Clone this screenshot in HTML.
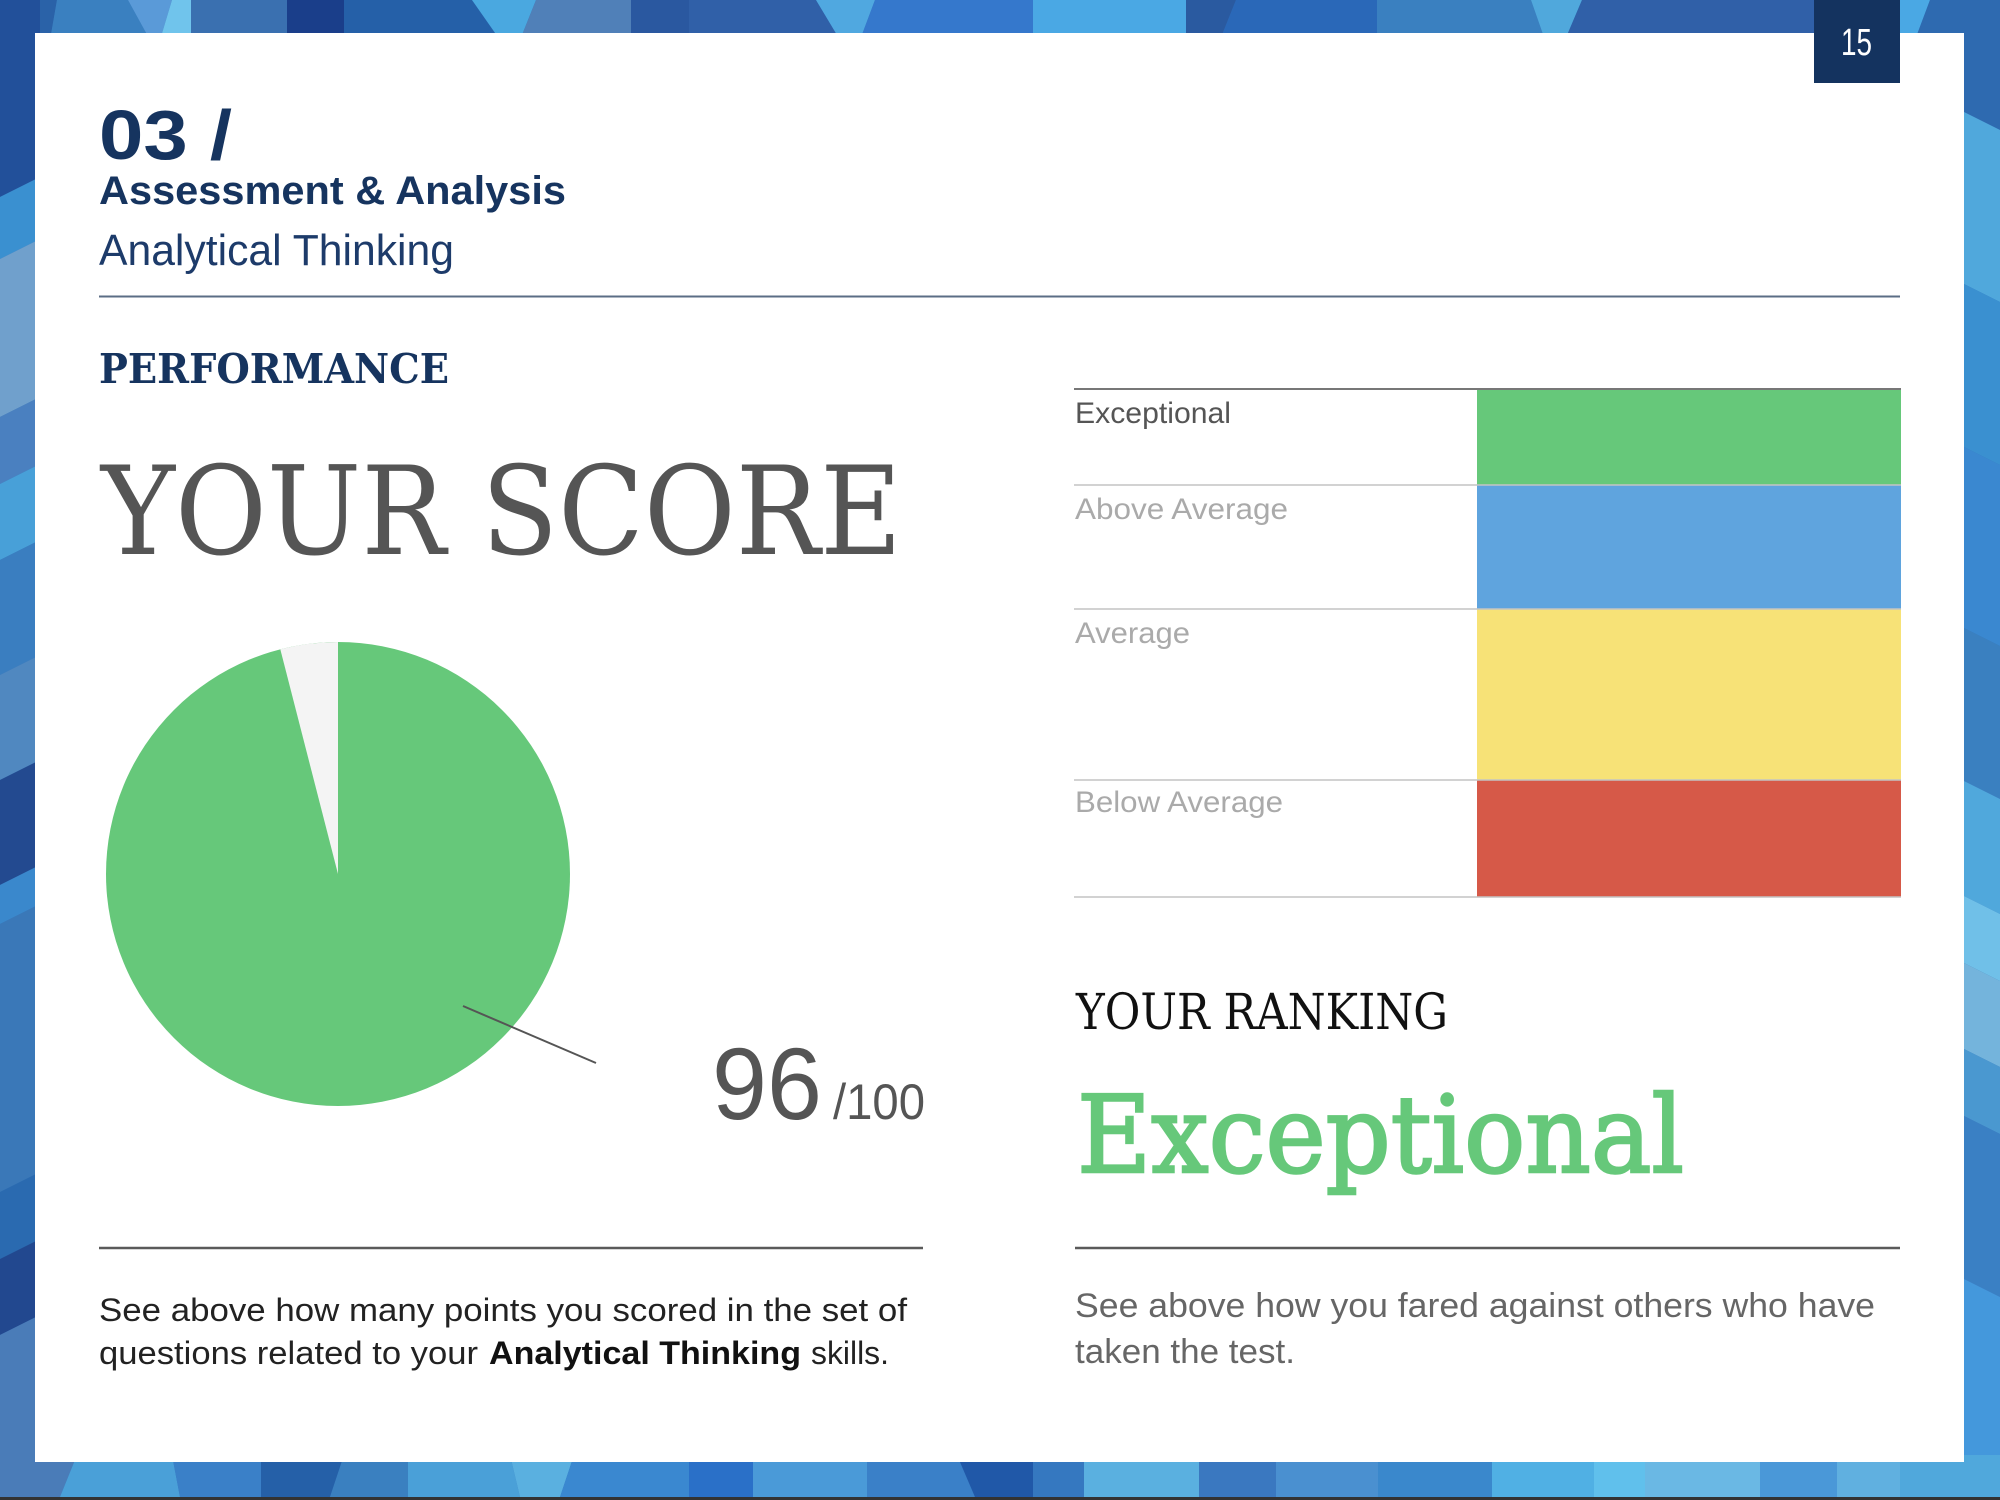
<!DOCTYPE html>
<html><head><meta charset="utf-8"><style>
html,body{margin:0;padding:0;width:2000px;height:1500px;overflow:hidden;background:#3374bb}
svg{display:block}
</style></head><body>
<svg width="2000" height="1500" viewBox="0 0 2000 1500" xmlns="http://www.w3.org/2000/svg">
<rect x="0" y="0" width="2000" height="1500" fill="#3374bb"/>
<!-- top strip -->
<g>
<polygon points="0,0 57,0 50,40 0,40" fill="#2a62a8"/>
<polygon points="57,0 128,0 150,40 50,40" fill="#3a80c0"/>
<polygon points="128,0 172,0 160,40 150,40" fill="#5a9ad8"/>
<polygon points="172,0 191,0 191,40 160,40" fill="#70c4ec"/>
<polygon points="191,0 287,0 287,40 191,40" fill="#3a70b0"/>
<polygon points="287,0 344,0 344,40 287,40" fill="#1a3e8a"/>
<polygon points="344,0 472,0 500,40 344,40" fill="#2560a8"/>
<polygon points="472,0 536,0 520,40 500,40" fill="#4aa8e0"/>
<polygon points="536,0 631,0 631,40 520,40" fill="#5080b8"/>
<polygon points="631,0 689,0 689,40 631,40" fill="#2a58a0"/>
<polygon points="689,0 816,0 840,40 689,40" fill="#3060a8"/>
<polygon points="816,0 875,0 860,40 840,40" fill="#50a8e0"/>
<polygon points="875,0 1033,0 1033,40 860,40" fill="#3578cc"/>
<polygon points="1033,0 1186,0 1186,40 1033,40" fill="#4aa8e4"/>
<polygon points="1186,0 1236,0 1220,40 1186,40" fill="#2a5aa0"/>
<polygon points="1236,0 1377,0 1377,40 1220,40" fill="#2a68b8"/>
<polygon points="1377,0 1531,0 1545,40 1377,40" fill="#3a80c0"/>
<polygon points="1531,0 1582,0 1565,40 1545,40" fill="#50a8dc"/>
<polygon points="1582,0 1814,0 1814,40 1565,40" fill="#3060a8"/>
<polygon points="1900,0 1930,0 1915,40 1900,40" fill="#4aa8e4"/>
<polygon points="1930,0 2000,0 2000,40 1915,40" fill="#2e6ab0"/>
</g>
<!-- left strip -->
<g>
<polygon points="0,0 40,0 40,177 0,197" fill="#22509a"/>
<polygon points="0,197 40,177 40,239 0,259" fill="#3a90d0"/>
<polygon points="0,259 40,239 40,397 0,417" fill="#70a0cc"/>
<polygon points="0,417 40,397 40,464 0,484" fill="#4a80c0"/>
<polygon points="0,484 40,464 40,540 0,560" fill="#48a0d8"/>
<polygon points="0,560 40,540 40,655 0,675" fill="#3a7ec0"/>
<polygon points="0,675 40,655 40,760 0,780" fill="#5088c0"/>
<polygon points="0,780 40,760 40,865 0,885" fill="#234a90"/>
<polygon points="0,885 40,865 40,904 0,924" fill="#3a88cc"/>
<polygon points="0,924 40,904 40,1172 0,1192" fill="#3a78b8"/>
<polygon points="0,1192 40,1172 40,1239 0,1259" fill="#2a6ab0"/>
<polygon points="0,1259 40,1239 40,1315 0,1335" fill="#22488f"/>
<polygon points="0,1335 40,1315 40,1500 0,1500" fill="#4a7cb8"/>
</g>
<!-- right strip -->
<g>
<polygon points="1960,0 2000,0 2000,130 1960,110" fill="#2e6ab0"/>
<polygon points="1960,110 2000,130 2000,302 1960,282" fill="#50a8dc"/>
<polygon points="1960,282 2000,302 2000,465 1960,445" fill="#3a90d0"/>
<polygon points="1960,445 2000,465 2000,646 1960,626" fill="#3a88d0"/>
<polygon points="1960,626 2000,646 2000,799 1960,779" fill="#3a80c0"/>
<polygon points="1960,779 2000,799 2000,914 1960,894" fill="#50a8dc"/>
<polygon points="1960,894 2000,914 2000,981 1960,961" fill="#70c0e8"/>
<polygon points="1960,961 2000,981 2000,1067 1960,1047" fill="#74b4dc"/>
<polygon points="1960,1047 2000,1067 2000,1134 1960,1114" fill="#4a98d0"/>
<polygon points="1960,1114 2000,1134 2000,1297 1960,1277" fill="#3a80c4"/>
<polygon points="1960,1277 2000,1297 2000,1500 1960,1500" fill="#4498dc"/>
</g>
<!-- bottom strip -->
<g>
<polygon points="0,1455 77,1455 60,1497 0,1497" fill="#4a7cb8"/>
<polygon points="77,1455 172,1455 180,1497 60,1497" fill="#4aa0d8"/>
<polygon points="172,1455 261,1455 261,1497 180,1497" fill="#3a80c8"/>
<polygon points="261,1455 344,1455 330,1497 261,1497" fill="#2560a8"/>
<polygon points="344,1455 408,1455 408,1497 330,1497" fill="#3a80c0"/>
<polygon points="408,1455 510,1455 520,1497 408,1497" fill="#4aa0d8"/>
<polygon points="510,1455 574,1455 560,1497 520,1497" fill="#5ab0e0"/>
<polygon points="574,1455 689,1455 689,1497 560,1497" fill="#3a88d0"/>
<polygon points="689,1455 753,1455 753,1497 689,1497" fill="#2a70c8"/>
<polygon points="753,1455 867,1455 867,1497 753,1497" fill="#4a9ad8"/>
<polygon points="867,1455 957,1455 975,1497 867,1497" fill="#3a80c8"/>
<polygon points="957,1455 1033,1455 1033,1497 975,1497" fill="#2058a8"/>
<polygon points="1033,1455 1084,1455 1084,1497 1033,1497" fill="#3578c0"/>
<polygon points="1084,1455 1199,1455 1199,1497 1084,1497" fill="#5ab0e0"/>
<polygon points="1199,1455 1276,1455 1276,1497 1199,1497" fill="#3a78c0"/>
<polygon points="1276,1455 1378,1455 1378,1497 1276,1497" fill="#4a90d0"/>
<polygon points="1378,1455 1492,1455 1492,1497 1378,1497" fill="#3a88cc"/>
<polygon points="1492,1455 1594,1455 1594,1497 1492,1497" fill="#50b0e4"/>
<polygon points="1594,1455 1645,1455 1645,1497 1594,1497" fill="#60c0ec"/>
<polygon points="1645,1455 1760,1455 1760,1497 1645,1497" fill="#6ab8e4"/>
<polygon points="1760,1455 1837,1455 1837,1497 1760,1497" fill="#4a98d8"/>
<polygon points="1837,1455 1900,1455 1900,1497 1837,1497" fill="#60b0e0"/>
<polygon points="1900,1455 2000,1455 2000,1497 1900,1497" fill="#50a8dc"/>
</g>
<rect x="0" y="1497" width="2000" height="3" fill="#333"/>

<!-- white panel -->
<rect x="35" y="33" width="1929" height="1429" fill="#ffffff"/>

<!-- page number -->
<rect x="1814" y="0" width="86" height="83" fill="#14335f"/>
<text x="1841" y="55" font-family="Liberation Sans, sans-serif" font-size="38" fill="#ffffff" textLength="31" lengthAdjust="spacingAndGlyphs">15</text>

<!-- header -->
<text x="99" y="159" font-family="Liberation Sans, sans-serif" font-weight="bold" font-size="70" fill="#16345f" textLength="133" lengthAdjust="spacingAndGlyphs">03 /</text>
<text x="99" y="204" font-family="Liberation Sans, sans-serif" font-weight="bold" font-size="40" fill="#16345f" textLength="467" lengthAdjust="spacingAndGlyphs">Assessment &amp; Analysis</text>
<text x="99" y="265" font-family="Liberation Sans, sans-serif" font-size="44" fill="#1d3b6a" textLength="355" lengthAdjust="spacingAndGlyphs">Analytical Thinking</text>
<line x1="99" y1="296.5" x2="1900" y2="296.5" stroke="#5b6d85" stroke-width="2"/>

<text x="99" y="383" font-family="DejaVu Serif, serif" font-weight="bold" font-size="41" fill="#16345f" textLength="350" lengthAdjust="spacingAndGlyphs">PERFORMANCE</text>

<text x="101" y="554" font-family="DejaVu Serif, serif" font-size="123" fill="#555555" textLength="801" lengthAdjust="spacingAndGlyphs">YOUR SCORE</text>

<!-- pie -->
<circle cx="338" cy="874" r="232" fill="#66c87a"/>
<path d="M338,874 L338,642 A232,232 0 0,0 280.3,649.3 Z" fill="#f4f4f4"/>
<line x1="463" y1="1006" x2="596" y2="1063" stroke="#555" stroke-width="2"/>

<text x="712" y="1119" font-family="Liberation Sans, sans-serif" font-size="102" fill="#555555" textLength="110" lengthAdjust="spacingAndGlyphs">96</text>
<text x="833" y="1119" font-family="Liberation Sans, sans-serif" font-size="50" fill="#555555" textLength="92" lengthAdjust="spacingAndGlyphs">/100</text>

<!-- table -->
<rect x="1477" y="389" width="424" height="96" fill="#66c87a"/>
<rect x="1477" y="485" width="424" height="124" fill="#5fa4de"/>
<rect x="1477" y="609" width="424" height="171" fill="#f7e277"/>
<rect x="1477" y="780" width="424" height="117" fill="#d65948"/>
<line x1="1074" y1="389" x2="1901" y2="389" stroke="#777" stroke-width="2"/>
<line x1="1074" y1="485" x2="1901" y2="485" stroke="#c4c4c4" stroke-width="1.6"/>
<line x1="1074" y1="609" x2="1901" y2="609" stroke="#c4c4c4" stroke-width="1.6"/>
<line x1="1074" y1="780" x2="1901" y2="780" stroke="#c4c4c4" stroke-width="1.6"/>
<line x1="1074" y1="897" x2="1901" y2="897" stroke="#c4c4c4" stroke-width="1.6"/>
<text x="1075" y="423" font-family="Liberation Sans, sans-serif" font-size="30" fill="#555555" textLength="156" lengthAdjust="spacingAndGlyphs">Exceptional</text>
<text x="1075" y="519" font-family="Liberation Sans, sans-serif" font-size="30" fill="#aaaaaa" textLength="213" lengthAdjust="spacingAndGlyphs">Above Average</text>
<text x="1075" y="643" font-family="Liberation Sans, sans-serif" font-size="30" fill="#aaaaaa" textLength="115" lengthAdjust="spacingAndGlyphs">Average</text>
<text x="1075" y="812" font-family="Liberation Sans, sans-serif" font-size="30" fill="#aaaaaa" textLength="208" lengthAdjust="spacingAndGlyphs">Below Average</text>

<!-- ranking -->
<text x="1076" y="1029" font-family="DejaVu Serif, serif" font-size="50" fill="#111111" textLength="372" lengthAdjust="spacingAndGlyphs">YOUR RANKING</text>
<text x="1077" y="1172" font-family="DejaVu Serif, serif" font-size="107" fill="#66c87a" stroke="#66c87a" stroke-width="2.5" textLength="607" lengthAdjust="spacingAndGlyphs">Exceptional</text>

<!-- bottom lines -->
<line x1="99" y1="1248" x2="923" y2="1248" stroke="#5a5a5a" stroke-width="2.5"/>
<line x1="1075" y1="1248" x2="1900" y2="1248" stroke="#5a5a5a" stroke-width="2.5"/>

<!-- paragraphs -->
<text x="99" y="1321" font-family="Liberation Sans, sans-serif" font-size="32" fill="#222222" textLength="808" lengthAdjust="spacingAndGlyphs">See above how many points you scored in the set of</text>
<text x="99" y="1364" font-family="Liberation Sans, sans-serif" font-size="32" fill="#222222" textLength="379" lengthAdjust="spacingAndGlyphs">questions related to your</text>
<text x="489" y="1364" font-family="Liberation Sans, sans-serif" font-weight="bold" font-size="32" fill="#111111" textLength="312" lengthAdjust="spacingAndGlyphs">Analytical Thinking</text>
<text x="811" y="1364" font-family="Liberation Sans, sans-serif" font-size="32" fill="#222222" textLength="78" lengthAdjust="spacingAndGlyphs">skills.</text>

<text x="1075" y="1317" font-family="Liberation Sans, sans-serif" font-size="34" fill="#666666" textLength="800" lengthAdjust="spacingAndGlyphs">See above how you fared against others who have</text>
<text x="1075" y="1363" font-family="Liberation Sans, sans-serif" font-size="34" fill="#666666" textLength="220" lengthAdjust="spacingAndGlyphs">taken the test.</text>
</svg>
</body></html>
